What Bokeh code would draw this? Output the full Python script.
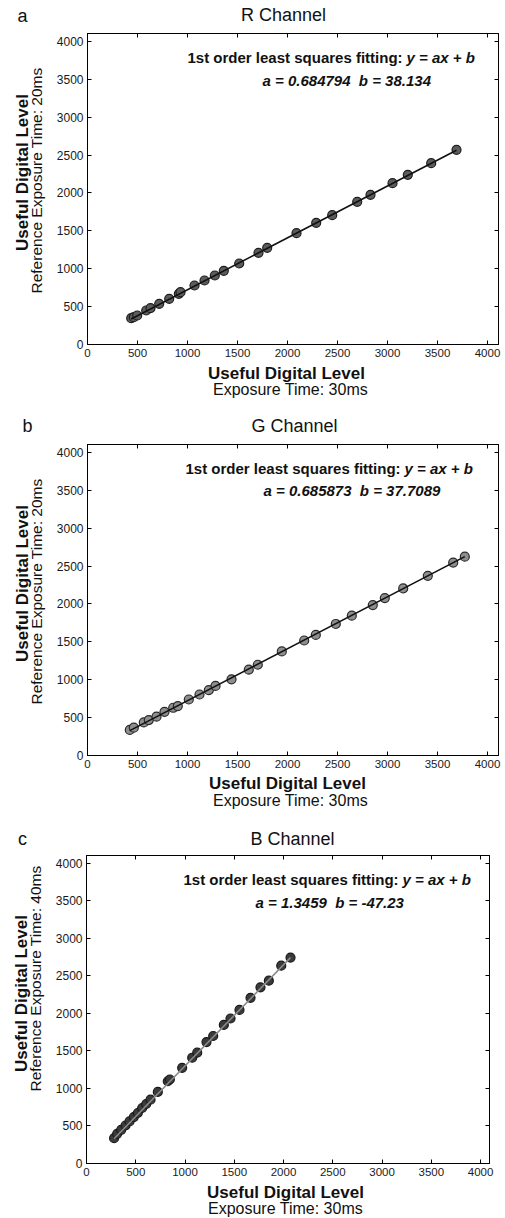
import numpy as np
from bokeh.plotting import figure
from bokeh.models import Range1d, LinearAxis, Label, FixedTicker
from bokeh.layouts import column, row
from bokeh.embed import file_html
from bokeh.resources import INLINE

FONT = "Liberation Sans"
TICKS = [0, 500, 1000, 1500, 2000, 2500, 3000, 3500, 4000]

# ---- data ----
R_X = [437, 463, 497, 587, 630, 717, 817, 913, 930, 1070, 1170, 1273, 1363, 1517,
       1710, 1797, 2090, 2287, 2447, 2697, 2830, 3050, 3203, 3437, 3690]
R_Y = [347, 361, 383, 449, 480, 537, 603, 669, 691, 779, 845, 911, 973, 1069,
       1210, 1276, 1470, 1606, 1707, 1883, 1976, 2130, 2240, 2394, 2570]
R_FIT = [0.684794, 38.134]

G_X = [423, 463, 563, 613, 690, 770, 857, 903, 1013, 1120, 1213, 1280, 1440, 1613,
       1703, 1943, 2167, 2283, 2483, 2643, 2853, 2973, 3157, 3403, 3657, 3773]
G_Y = [337, 367, 437, 468, 512, 577, 630, 652, 739, 805, 862, 919, 1006, 1133,
       1198, 1374, 1518, 1592, 1736, 1846, 1986, 2078, 2205, 2371, 2546, 2625]
G_FIT = [0.685873, 37.7089]

B_X = [280, 311, 352, 396, 437, 480, 521, 565, 606, 650, 724, 825, 846, 971, 1073,
       1124, 1218, 1286, 1394, 1462, 1553, 1665, 1766, 1851, 1977, 2071]
B_Y = [337, 395, 448, 506, 560, 618, 672, 739, 792, 850, 953, 1095, 1118, 1274, 1408,
       1475, 1617, 1697, 1845, 1930, 2045, 2206, 2345, 2434, 2634, 2741]
B_FIT = [1.3459, -47.23]

PANELS = [
    dict(letter="a", title="R Channel", x=R_X, y=R_Y, fit=R_FIT,
         ylab2="Reference Exposure Time: 20ms", xlab2="Exposure Time: 30ms"),
    dict(letter="b", title="G Channel", x=G_X, y=G_Y, fit=G_FIT,
         ylab2="Reference Exposure Time: 20ms", xlab2="Exposure Time: 30ms"),
    dict(letter="c", title="B Channel", x=B_X, y=B_Y, fit=B_FIT,
         ylab2="Reference Exposure Time: 40ms", xlab2="Exposure Time: 30ms"),
]

W = 505
WL = 46  # width of the strip holding the rotated y labels

# sizes / positions (header, main, footer heights; label positions in px)
LAYOUT = [
    dict(ht=27, hm=337, hb=50, bl=41, br=7, bt=6, bb=20, xmax=4110, ymax=4105,
         fill="#5c5c5c", edge="#1e1e1e", line="#111111",
         letter=(22, 12), title=(283, 13), l1=(100, 287), l2=(175, 264),
         yb=(22, 172), yr=(36, 164), xb=(286, 41), xr=(290, 25)),
    dict(ht=24, hm=337, hb=50, bl=41, br=7, bt=6, bb=20, xmax=4110, ymax=4105,
         fill="#8e8e8e", edge="#2a2a2a", line="#111111",
         letter=(27, 13), title=(294, 13), l1=(98, 287), l2=(176, 265),
         yb=(22, 172), yr=(36, 164), xb=(287, 42), xr=(290, 25)),
    dict(ht=24, hm=334, hb=35, bl=40, br=16, bt=6, bb=20, xmax=4091, ymax=4100,
         fill="#3a3a3a", edge="#1a1a1a", line="#8a8a8a",
         letter=(22, 11), title=(292, 11), l1=(97, 284), l2=(169, 261),
         yb=(21, 170), yr=(35, 185), xb=(285, 26), xr=(285, 10)),
]

TXT = "#111111"


def lab(p, pos, text, size, style="normal", align="center", angle=0.0):
    p.add_layout(Label(x=pos[0], y=pos[1], x_units="screen", y_units="screen",
                       text=text, text_font=FONT, text_font_size=f"{size}px",
                       text_font_style=style, text_align=align,
                       text_baseline="middle", angle=angle, text_color=TXT))


def textfig(w, h):
    f = figure(width=w, height=h, x_range=Range1d(0, w), y_range=Range1d(0, h),
               x_axis_type=None, y_axis_type=None, output_backend="svg",
               toolbar_location=None, min_border=0, outline_line_color=None,
               background_fill_color="white", border_fill_color="white")
    return f


items = []
for d, L in zip(PANELS, LAYOUT):
    a, b = d["fit"]

    # header: panel letter + channel title
    head = textfig(W, L["ht"])
    lab(head, L["letter"], d["letter"], 18)
    lab(head, L["title"], d["title"], 18)

    # left strip: two-line y label
    left = textfig(WL, L["hm"])
    lab(left, L["yb"], "Useful Digital Level", 17, "bold", angle=np.pi / 2)
    lab(left, L["yr"], d["ylab2"], 15.5, "normal", angle=np.pi / 2)

    # main plot
    p = figure(width=W - WL, height=L["hm"], x_range=Range1d(0, L["xmax"]),
               y_range=Range1d(0, L["ymax"]), output_backend="svg",
               toolbar_location=None, min_border_left=L["bl"],
               min_border_right=L["br"], min_border_top=L["bt"],
               min_border_bottom=L["bb"], outline_line_color="black",
               outline_line_width=1, background_fill_color="white",
               border_fill_color="white")
    p.xgrid.grid_line_color = None
    p.ygrid.grid_line_color = None
    for ax, fs in ((p.xaxis[0], "11.5px"), (p.yaxis[0], "12px")):
        ax.ticker = FixedTicker(ticks=TICKS)
        ax.major_tick_in = 4
        ax.major_tick_out = 0
        ax.minor_tick_line_color = None
        ax.axis_line_color = "black"
        ax.major_tick_line_color = "black"
        ax.major_label_text_font = FONT
        ax.major_label_text_font_size = fs
        ax.major_label_text_color = "#1a1a1a"
        ax.major_label_standoff = 4
    for loc in ("above", "right"):
        ax = LinearAxis(ticker=FixedTicker(ticks=TICKS), major_tick_in=4,
                        major_tick_out=0, minor_tick_line_color=None,
                        major_label_text_color=None,
                        major_label_text_font_size="1px", major_label_standoff=0,
                        axis_line_color="black", major_tick_line_color="black")
        p.add_layout(ax, loc)

    p.scatter(d["x"], d["y"], size=9, marker="circle",
              fill_color=L["fill"], line_color=L["edge"], line_width=1.2)
    xs = np.array([min(d["x"]), max(d["x"])], dtype=float)
    p.line(xs, a * xs + b, line_color=L["line"], line_width=1.6)

    lab(p, L["l1"], "1st order least squares fitting: ", 15, "bold", "left")
    lab(p, (L["l1"][0] + 219, L["l1"][1]), "y = ax + b", 15, "bold italic", "left")
    lab(p, L["l2"], f"a = {a:g} \u00a0b = {b:g}", 15, "bold italic", "left")

    # footer: two-line x label
    foot = textfig(W, L["hb"])
    lab(foot, L["xb"], "Useful Digital Level", 17, "bold")
    lab(foot, L["xr"], d["xlab2"], 16, "normal")

    items += [head, row(left, p, spacing=0), foot]

layout = column(*items, spacing=0)
open("out.html", "w").write(file_html(layout, INLINE))
